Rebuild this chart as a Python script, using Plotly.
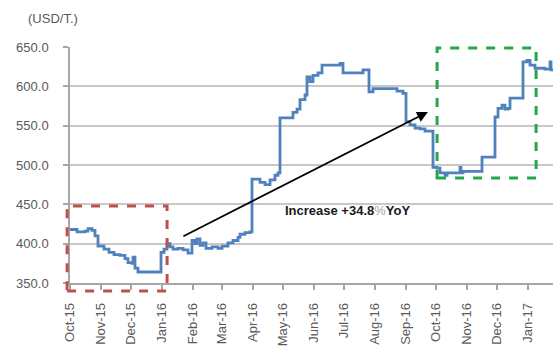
import plotly.graph_objects as go

dates = [
    "2015-10-01", "2015-10-08", "2015-10-16", "2015-10-19", "2015-10-23", "2015-10-26", "2015-10-29",
    "2015-11-04", "2015-11-09", "2015-11-14", "2015-11-20", "2015-11-25", "2015-11-28",
    "2015-12-02", "2015-12-03", "2015-12-05", "2015-12-08", "2015-12-31",
    "2016-01-03", "2016-01-06", "2016-01-09", "2016-01-12", "2016-01-17", "2016-01-22", "2016-01-27", "2016-01-31",
    "2016-02-03", "2016-02-05", "2016-02-08", "2016-02-11", "2016-02-14", "2016-02-20", "2016-02-26",
    "2016-03-01", "2016-03-07", "2016-03-12", "2016-03-17", "2016-03-19", "2016-03-24", "2016-03-29", "2016-03-31",
    "2016-04-08", "2016-04-13", "2016-04-18", "2016-04-23", "2016-04-26", "2016-04-28",
    "2016-05-11", "2016-05-15", "2016-05-18", "2016-05-23", "2016-05-25", "2016-05-28", "2016-05-31",
    "2016-06-05", "2016-06-09", "2016-06-27", "2016-06-30",
    "2016-07-20", "2016-07-26", "2016-07-30",
    "2016-08-23", "2016-08-29",
    "2016-09-01", "2016-09-05", "2016-09-10", "2016-09-15", "2016-09-20", "2016-09-28",
    "2016-10-02", "2016-10-05", "2016-10-10", "2016-10-12", "2016-10-25", "2016-10-26", "2016-10-28",
    "2016-11-16", "2016-11-29",
    "2016-12-02", "2016-12-06", "2016-12-09", "2016-12-12", "2016-12-14", "2016-12-27", "2016-12-31",
    "2017-01-03", "2017-01-08", "2017-01-18", "2017-01-23", "2017-01-24", "2017-01-26",
]
prices = [
    418, 415, 416, 419, 417, 410, 397,
    393, 389, 386, 385, 381, 376,
    375, 383, 369, 364, 389,
    393, 400, 396, 393, 394, 392, 388, 404,
    400, 406, 398, 401, 394, 396, 394,
    397, 401, 404, 408, 412, 414, 415, 482,
    478, 475, 481, 487, 490, 560,
    567, 571, 583, 589, 612, 606, 614,
    617, 627, 629, 617,
    621, 593, 597,
    594, 591,
    555, 551, 547, 546, 543, 497,
    496, 490, 487, 490, 497, 490, 492,
    510, 561,
    572, 576, 571, 572, 585, 631, 633,
    627, 623, 622, 631, 621, 620,
]
tick_dates = ["2015-10-01", "2015-11-01", "2015-12-01", "2016-01-01", "2016-02-01", "2016-03-01",
              "2016-04-01", "2016-05-01", "2016-06-01", "2016-07-01", "2016-08-01", "2016-09-01",
              "2016-10-01", "2016-11-01", "2016-12-01", "2017-01-01"]
tick_labels = ["Oct-15", "Nov-15", "Dec-15", "Jan-16", "Feb-16", "Mar-16", "Apr-16", "May-16",
               "Jun-16", "Jul-16", "Aug-16", "Sep-16", "Oct-16", "Nov-16", "Dec-16", "Jan-17"]
y_ticks = [350, 400, 450, 500, 550, 600, 650]
unit_label = "(USD/T.)"
note_text = "<b>Increase +34.8</b><span style='color:#a6a6a6'>%</span><b>YoY</b>"

fig = go.Figure()
fig.add_trace(go.Scatter(
    x=dates, y=prices, mode="lines", line=dict(color="#4f81bd", width=2.8, shape="hv"),
    showlegend=False, hoverinfo="x+y",
))

tick_font = dict(family="Arial, Liberation Sans, sans-serif", size=13, color="#595959")

fig.update_layout(
    width=559, height=347,
    margin=dict(l=70, r=6, t=47, b=64),
    paper_bgcolor="white", plot_bgcolor="white",
    xaxis=dict(
        type="date", range=["2015-10-01", "2017-01-26"],
        tickmode="array", tickvals=tick_dates, ticktext=tick_labels,
        tickangle=-90, tickfont=tick_font, automargin=False,
        showgrid=False, showline=True, linecolor="#a6a6a6", linewidth=1.5,
        ticks="outside", ticklen=5, tickcolor="#a6a6a6", tickwidth=1.5,
        ticklabelstandoff=8,
        zeroline=False,
    ),
    yaxis=dict(
        range=[350, 650], tickvals=y_ticks, tickformat=".1f", tickfont=tick_font,
        automargin=False,
        showgrid=True, gridcolor="#c8c8c8", gridwidth=1.5,
        showline=True, linecolor="#a6a6a6", linewidth=1.5,
        ticks="outside", ticklen=5, tickcolor="#a6a6a6", tickwidth=1.5,
        ticklabelstandoff=12,
        zeroline=False,
    ),
    shapes=[
        dict(type="rect", xref="paper", yref="paper", x0=-0.006, x1=0.201, y0=-0.034, y1=0.326,
             line=dict(color="#c0504d", width=3, dash="dash"), fillcolor="rgba(0,0,0,0)"),
        dict(type="rect", xref="paper", yref="paper", x0=0.760, x1=0.965, y0=0.445, y1=0.996,
             line=dict(color="#22a84a", width=3, dash="dash"), fillcolor="rgba(0,0,0,0)"),
    ],
    annotations=[
        dict(xref="paper", yref="paper", x=0.741, y=0.7246, ax=-246, ay=125,
             axref="pixel", ayref="pixel", showarrow=True, arrowhead=2, arrowsize=1.2,
             arrowwidth=1.8, arrowcolor="black", text=""),
        dict(xref="paper", yref="paper", x=0.441, y=0.309, xanchor="left", yanchor="middle",
             text=note_text, showarrow=False,
             font=dict(family="Arial, Liberation Sans, sans-serif", size=13, color="#1a1a1a")),
        dict(xref="paper", yref="paper", x=(26 - 70) / 483, y=(283 - 18) / 236, xanchor="left",
             yanchor="middle", text=unit_label, showarrow=False,
             font=dict(family="Arial, Liberation Sans, sans-serif", size=13, color="#595959")),
    ],
)

fig.write_html("out.html")
